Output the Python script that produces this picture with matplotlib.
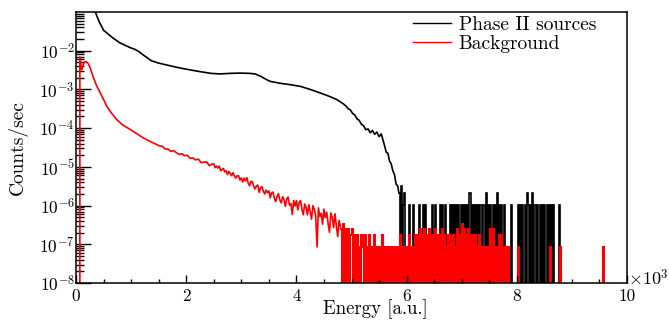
import numpy as np
import matplotlib.pyplot as plt
from matplotlib.lines import Line2D
from matplotlib.ticker import FixedLocator, FuncFormatter, LogLocator, NullFormatter, MultipleLocator

plt.rcParams['font.family'] = ['cmr10']
plt.rcParams['mathtext.fontset'] = 'cm'
plt.rcParams['axes.formatter.use_mathtext'] = True

# Phase II sources: smooth part, energy [a.u.] and log10(counts/sec)
black_e = [10, 300, 350, 420, 500, 600, 680, 800, 920, 1000, 1070, 1150, 1220,
           1300, 1370, 1500, 1710, 1900, 2130, 2250, 2450, 2610, 2800, 2980,
           3150, 3250, 3350, 3450, 3520, 3700, 3900, 4070, 4250, 4430, 4600,
           4730, 4850,
           4900, 4940, 4980, 5020, 5060, 5100, 5140, 5180, 5220, 5260, 5300,
           5340, 5380, 5420, 5460, 5500, 5540, 5570, 5600, 5630, 5660, 5690,
           5720, 5750, 5780, 5810, 5840, 5860]
black_log = [-0.30, -0.89, -1.00, -1.25, -1.47, -1.59, -1.68, -1.80, -1.88, -1.93,
             -1.965, -2.03, -2.11, -2.19, -2.26, -2.32, -2.39, -2.45, -2.51, -2.54,
             -2.585, -2.60, -2.585, -2.578, -2.585, -2.60, -2.66, -2.74, -2.79,
             -2.84, -2.88, -2.92, -3.00, -3.09, -3.18, -3.26, -3.37,
             -3.43, -3.50, -3.53, -3.62, -3.66, -3.76, -3.80, -3.90, -3.94, -4.04,
             -4.02, -4.12, -4.06, -4.16, -4.10, -4.22, -4.15, -4.30, -4.45, -4.62,
             -4.65, -4.85, -4.92, -5.10, -5.20, -5.45, -5.50, -5.68]

# Background: smooth part
red_e = [70, 70, 85, 100, 120, 150, 180, 210, 250, 310, 370, 440, 500, 560, 650,
         740, 850, 980, 1100, 1220, 1370,
         1520, 1570, 1620, 1670, 1720, 1770, 1820, 1870, 1920, 1970,
         2020, 2070, 2120, 2170, 2220, 2270, 2320, 2370, 2420, 2470,
         2500, 2525, 2550, 2575, 2600, 2625, 2650, 2675, 2700, 2725, 2750,
         2775, 2800, 2825, 2850, 2875, 2900, 2925, 2950, 2975, 3000,
         3025, 3050, 3075, 3100, 3125, 3150, 3175, 3200, 3225, 3250,
         3275, 3300, 3325, 3350, 3375, 3400, 3425, 3450, 3475, 3500,
         3525, 3550, 3575, 3600, 3625, 3650, 3675, 3700, 3725, 3750,
         3775, 3800, 3825, 3850, 3875, 3900, 3925, 3950, 3975, 4000,
         4025, 4050, 4075, 4100, 4125, 4150, 4175, 4200, 4225, 4250,
         4275, 4300, 4325, 4350, 4375, 4400, 4425, 4450, 4475, 4500,
         4525, 4550, 4575, 4600, 4625, 4650, 4675, 4700, 4725, 4750,
         4775, 4800]
red_log = [-12, -2.16, -2.30, -2.49, -2.41, -2.30, -2.28, -2.31, -2.41, -2.67, -2.89,
           -3.09, -3.26, -3.44, -3.62, -3.78, -3.92, -4.03, -4.14, -4.25, -4.36,
           -4.46, -4.47, -4.54, -4.54, -4.60, -4.58, -4.63, -4.68, -4.66, -4.71,
           -4.70, -4.78, -4.77, -4.82, -4.80, -4.89, -4.88, -4.87, -4.97, -4.93,
           -4.92, -5.02, -4.98, -5.03, -4.98, -5.10, -5.07, -5.04, -5.13, -5.10, -5.20,
           -5.12, -5.17, -5.23, -5.15, -5.24, -5.29, -5.23, -5.23, -5.34, -5.29,
           -5.39, -5.29, -5.36, -5.28, -5.42, -5.49, -5.38, -5.38, -5.50, -5.57,
           -5.49, -5.47, -5.66, -5.54, -5.51, -5.63, -5.70, -5.60, -5.67, -5.62,
           -5.80, -5.67, -5.65, -5.81, -5.90, -5.76, -5.69, -5.86, -5.93, -5.77,
           -5.84, -6.02, -5.82, -5.78, -5.99, -5.95, -6.23, -5.87, -6.01, -5.87,
           -6.11, -5.92, -5.87, -6.09, -6.24, -5.96, -6.04, -6.24, -5.98, -6.15,
           -6.35, -6.00, -6.10, -6.27, -7.07, -6.06, -6.28, -6.20, -6.48, -6.09,
           -6.31, -6.17, -6.46, -6.69, -6.19, -6.29, -6.57, -6.21, -6.52, -6.80,
           -6.38, -6.55]

# low-statistics tails: counts per 20 a.u. bin
bin_width = 20
black_unit = 1.05e-6
red_unit = 8.5e-8

black_tail_start = 5860
black_tail_counts = [
    2, 0, 3, 0, 1, 2, 0,
    0, 0, 1, 0, 0, 0, 1, 0, 0, 0,   # 6000
    0, 1, 0, 0, 0, 1, 0, 1, 0, 0,   # 6200
    0, 0, 0, 1, 0, 0, 1, 0, 0, 0,   # 6400
    1, 0, 1, 0, 0, 1, 0, 0, 0, 1,   # 6600
    0, 1, 0, 1, 0, 1, 0, 1, 0, 1,   # 6800
    0, 1, 0, 1, 0, 1, 0, 2, 0, 1,   # 7000
    0, 1, 0, 1, 0, 1, 0, 1, 0, 1,   # 7200
    1, 0, 2, 0, 1, 0, 1, 0, 1, 0,   # 7400
    1, 0, 2, 0, 1, 0, 1, 0, 1, 0,   # 7600
    0, 0, 0, 0, 0, 1, 0, 0, 0, 0,   # 7800
    0, 1, 0, 1, 0, 1, 0, 1, 0, 2,   # 8000
    1, 0, 1, 0, 2, 0, 1, 0, 1, 0,   # 8200
    0, 1, 0, 1, 0, 1, 0, 1, 0, 1,   # 8400
    0, 1, 0, 1, 0, 0, 0, 0, 1, 0,   # 8600
]

red_tail_start = 4800
red_tail_counts = [
    3, 0, 4, 0, 3, 2, 0, 3, 0, 2,   # 4800
    3, 0, 2, 0, 0, 2, 0, 1, 0, 2,   # 5000
    1, 0, 2, 0, 1, 0, 2, 0, 1, 0,   # 5200
    2, 0, 1, 0, 1, 0, 1, 0, 2, 0,   # 5400
    1, 0, 1, 0, 1, 0, 1, 0, 1, 0,   # 5600
    1, 0, 1, 0, 2, 0, 1, 0, 1, 0,   # 5800
    1, 0, 2, 0, 1, 0, 1, 0, 2, 0,   # 6000
    2, 0, 3, 0, 2, 0, 3, 0, 2, 0,   # 6200
    3, 0, 2, 0, 2, 0, 3, 0, 2, 0,   # 6400
    2, 0, 3, 0, 2, 0, 1, 0, 2, 0,   # 6600
    2, 0, 2, 0, 1, 0, 3, 0, 2, 0,   # 6800
    4, 0, 3, 0, 2, 0, 3, 0, 2, 0,   # 7000
    2, 0, 2, 0, 1, 0, 2, 0, 1, 0,   # 7200
    1, 0, 1, 0, 1, 0, 3, 0, 3, 0,   # 7400
    1, 0, 1, 0, 2, 0, 2, 0, 1, 0,   # 7600
    1, 0, 1, 0, 0,                  # 7800
]
red_single_e = [8020, 8600, 8780, 9560]

legend_labels = ['Phase II sources', 'Background']


def tail_hist(start, counts, unit, singles=()):
    edges = np.arange(start, 10000 + bin_width, bin_width)
    vals = np.zeros(len(edges) - 1)
    vals[:len(counts)] = counts
    for e in singles:
        vals[int((e - start) // bin_width)] = 1
    vals = np.where(vals > 0, vals * unit, 1e-12)
    return edges, vals


fig = plt.figure(figsize=(6.69, 3.2), dpi=100)
ax = fig.add_axes([76 / 669, 1 - 283 / 320, 551 / 669, 271 / 320])
ax.set_yscale('log')

ax.plot(black_e, 10 ** np.array(black_log), color='black', lw=1.2)
be, bv = tail_hist(black_tail_start, black_tail_counts, black_unit)
ax.stairs(bv, be, color='black', lw=1.2, baseline=None)

ax.plot(red_e, 10 ** np.array(red_log), color='red', lw=1.2)
re_, rv = tail_hist(red_tail_start, red_tail_counts, red_unit, red_single_e)
ax.stairs(rv, re_, color='red', lw=1.5, baseline=None)

ax.set_xlim(0, 10000)
ax.set_ylim(1e-8, 1e-1)

ax.yaxis.set_major_locator(FixedLocator([10.0 ** k for k in range(-8, -1)]))
ax.yaxis.set_major_formatter(FuncFormatter(lambda v, p: r'$10^{%d}$' % round(np.log10(v))))
ax.yaxis.set_minor_locator(LogLocator(base=10, subs=np.arange(2, 10), numticks=20))
ax.yaxis.set_minor_formatter(NullFormatter())
ax.xaxis.set_major_locator(MultipleLocator(2000))
ax.xaxis.set_minor_locator(MultipleLocator(500))
ax.xaxis.set_major_formatter(FuncFormatter(lambda v, p: '%d' % round(v / 1000)))

ax.tick_params(axis='both', which='both', direction='in', top=False, right=False, width=1.0)
ax.tick_params(axis='y', which='major', length=11, pad=1, labelsize=12.5)
ax.tick_params(axis='y', which='minor', length=5.8)
ax.tick_params(axis='x', which='major', length=5.8, pad=4, labelsize=12.5)
ax.tick_params(axis='x', which='minor', length=3)
for s in ax.spines.values():
    s.set_linewidth(1.1)

fig.text(18 / 669, 1 - 148 / 320, 'Counts/sec', rotation=90, ha='center', va='center', fontsize=14)
fig.text(375 / 669, 1 - 309 / 320, 'Energy [a.u.]', ha='center', va='center', fontsize=13.5)
fig.text(628 / 669, 1 - 278 / 320, r'$\times10^{3}$', ha='left', va='center', fontsize=13)

handles = [Line2D([], [], color='black', lw=1.0), Line2D([], [], color='red', lw=1.0)]
ax.legend(handles, legend_labels, loc='upper left', bbox_to_anchor=(413 / 669, 1 - 16 / 320),
          bbox_transform=fig.transFigure, frameon=False, fontsize=14, handlelength=1.95,
          handletextpad=0.4, borderpad=0, borderaxespad=0, labelspacing=0.05)

fig.savefig('out.png', dpi=100)
